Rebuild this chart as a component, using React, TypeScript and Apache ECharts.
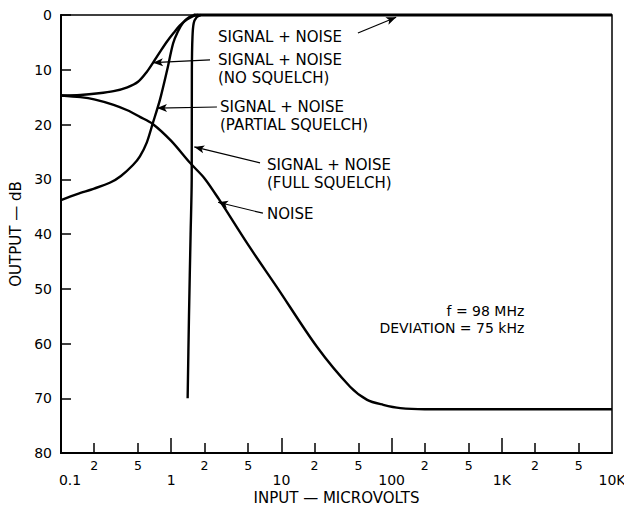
import React, { useEffect, useRef } from "react";
import * as echarts from "echarts";

// Input in microvolts, output in dB (0 at top, 80 at bottom)
const noSquelch: number[][] = [[0.1,14.7],[0.15,14.6],[0.22,14.3],[0.3,13.9],[0.4,13.2],[0.5,12.2],[0.6,10.4],[0.7,8.4],[0.8,6.6],[0.92,4.8],[1.05,3.3],[1.2,1.9],[1.4,0.8],[1.6,0.15],[1.75,0]];
const partialSquelch: number[][] = [[0.1,33.8],[0.14,32.7],[0.2,31.7],[0.28,30.6],[0.35,29.4],[0.45,27.4],[0.52,25.8],[0.6,23.3],[0.68,19.8],[0.79,15.5],[0.92,10],[1.04,5.2],[1.15,3],[1.28,1.4],[1.45,0.4],[1.65,0]];
const fullSquelch: number[][] = [[1.41,70],[1.45,55],[1.5,40],[1.535,30],[1.54,10],[1.56,4],[1.6,1.5],[1.7,0.4],[1.85,0]];
const signalNoise: number[][] = [[1.6,0],[10000,0]];
const noise: number[][] = [[0.1,14.7],[0.15,15.0],[0.2,15.4],[0.3,16.4],[0.4,17.4],[0.52,18.6],[0.68,19.9],[1,23],[1.48,27],[2,29.8],[2.7,33.6],[5,42],[9.1,49.7],[21,60.6],[42,67.9],[60,70.3],[84,71.2],[120,71.8],[200,72],[10000,72]];

const minorTicks = [0.2, 0.5, 2, 5, 20, 50, 200, 500, 2000, 5000];
const minorLabels = ["2", "5", "2", "5", "2", "5", "2", "5", "2", "5"];
const decadeTicks = [1, 10, 100, 1000];
const decadeValues = [0.1, 1, 10, 100, 1000, 10000];
const decadeLabels = ["0.1", "1", "10", "100", "1K", "10K"];
const yTicks = [0, 10, 20, 30, 40, 50, 60, 70, 80];

// annotations: text, text anchor (data), arrow start, arrow end (data)
const annotTexts = [
  "SIGNAL + NOISE",
  "SIGNAL + NOISE\n(NO SQUELCH)",
  "SIGNAL + NOISE\n(PARTIAL SQUELCH)",
  "SIGNAL + NOISE\n(FULL SQUELCH)",
  "NOISE",
];
const annotAt: number[][] = [[2.66, 4.0], [2.66, 8.2], [2.77, 16.8], [7.4, 27.4], [7.4, 36.3]];
const arrowFrom: number[][] = [[49.5, 3.3], [2.25, 8.2], [2.6, 16.8], [6.4, 27.0], [6.8, 36.2]];
const arrowTo: number[][] = [[110, 0.4], [0.684, 8.7], [0.743, 17.0], [1.62, 24.1], [2.66, 34.2]];
const noteText = "f = 98 MHz\nDEVIATION = 75 kHz";
const noteAt: number[] = [1600, 54.1];

const FONT = "DejaVu Sans";
const L = (p: number[]) => [Math.log10(p[0]), p[1]];

export default function App() {
  const ref = useRef<HTMLDivElement>(null);
  useEffect(() => {
    const chart = echarts.init(ref.current!, null, { renderer: "svg" });
    const curve = (name: string, data: number[][], extra: any = {}) => ({
      name,
      type: "line",
      data: data.map(L),
      showSymbol: false,
      symbol: "none",
      smooth: 0.3,
      clip: false,
      lineStyle: { color: "#000", width: 2.4 },
      ...extra,
    });
    const decadeMap: Record<string, string> = {};
    decadeValues.forEach((v, i) => (decadeMap[Math.log10(v).toFixed(3)] = i === 0 ? "{a|" + decadeLabels[i] + "}" : decadeLabels[i]));
    const minorMap: Record<string, string> = {};
    minorTicks.forEach((v, i) => (minorMap[Math.log10(v).toFixed(3)] = minorLabels[i]));

    chart.setOption({
      animation: false,
      backgroundColor: "#fff",
      textStyle: { fontFamily: FONT, color: "#000" },
      grid: { left: 61, right: 12, top: 15, bottom: 53, show: true, borderColor: "#000", borderWidth: 1.5, backgroundColor: "transparent", containLabel: false, outerBoundsMode: "none" },
      xAxis: [
        {
          type: "value", min: -1, max: 4, position: "bottom",
          name: "INPUT — MICROVOLTS", nameLocation: "middle", nameGap: 37,
          nameTextStyle: { fontFamily: FONT, fontSize: 15, color: "#000" },
          axisLine: { show: true, onZero: false, lineStyle: { color: "#000", width: 2 } },
          axisTick: { show: true, inside: true, length: 10, customValues: minorTicks.map(Math.log10), lineStyle: { color: "#000", width: 1.5 } },
          axisLabel: { show: true, customValues: minorTicks.map(Math.log10), margin: 6, fontSize: 12.5, color: "#000", fontFamily: FONT,
            formatter: (v: number) => minorMap[v.toFixed(3)] ?? "" },
          splitLine: { show: false },
        },
        {
          type: "value", min: -1, max: 4, position: "bottom",
          axisLine: { show: false, onZero: false },
          axisTick: { show: true, inside: true, length: 15, customValues: decadeTicks.map(Math.log10), lineStyle: { color: "#000", width: 1.5 } },
          axisLabel: { show: true, customValues: decadeValues.map(Math.log10), margin: 20, fontSize: 14, color: "#000", fontFamily: FONT,
            rich: { a: { fontSize: 14, fontFamily: FONT, color: "#000", padding: [0, 0, 0, 18] } },
            formatter: (v: number) => decadeMap[v.toFixed(3)] ?? "" },
          splitLine: { show: false },
        },
      ],
      yAxis: {
        type: "value", min: 0, max: 80, interval: 10, inverse: true,
        name: "OUTPUT — dB", nameLocation: "middle", nameGap: 38,
        nameTextStyle: { fontFamily: FONT, fontSize: 15, color: "#000" },
        axisLine: { show: true, onZero: false, lineStyle: { color: "#000", width: 2 } },
        axisTick: { show: true, inside: true, length: 10, lineStyle: { color: "#000", width: 1.5 }, customValues: yTicks },
        axisLabel: { margin: 9, fontSize: 14, color: "#000", fontFamily: FONT },
        splitLine: { show: false },
      },
      series: [
        curve("Signal + Noise (No Squelch)", noSquelch),
        curve("Signal + Noise (Partial Squelch)", partialSquelch),
        curve("Signal + Noise (Full Squelch)", fullSquelch),
        curve("Signal + Noise", signalNoise, { smooth: false, lineStyle: { color: "#000", width: 3 } }),
        curve("Noise", noise, {
          markLine: {
            silent: true,
            symbol: ["none", "arrow"],
            symbolSize: [6, 10],
            label: { show: false },
            lineStyle: { color: "#000", width: 1.2, type: "solid" },
            emphasis: { disabled: true },
            data: arrowFrom.map((f, i) => [{ coord: L(f) }, { coord: L(arrowTo[i]) }]),
          },
        }),
      ],
    });

    const px = (p: number[]) => chart.convertToPixel({ gridIndex: 0 }, L(p)) as number[];
    const graphics: any[] = annotTexts.map((t, i) => {
      const [x, y] = px(annotAt[i]);
      return {
        type: "text", x, y: y - 9,
        style: { text: t, fontFamily: FONT, fontSize: 15, lineHeight: 18, fill: "#000", textAlign: "left", textVerticalAlign: "top" },
      };
    });
    const [nx, ny] = px(noteAt);
    graphics.push({
      type: "text", x: nx, y: ny - 9,
      style: { text: noteText, fontFamily: FONT, fontSize: 14, lineHeight: 17, fill: "#000", textAlign: "right", textVerticalAlign: "top" },
    });
    chart.setOption({ graphic: graphics });
    return () => chart.dispose();
  }, []);
  return <div ref={ref} style={{ position: "fixed", left: 0, top: 0, width: 624, height: 506 }} />;
}
